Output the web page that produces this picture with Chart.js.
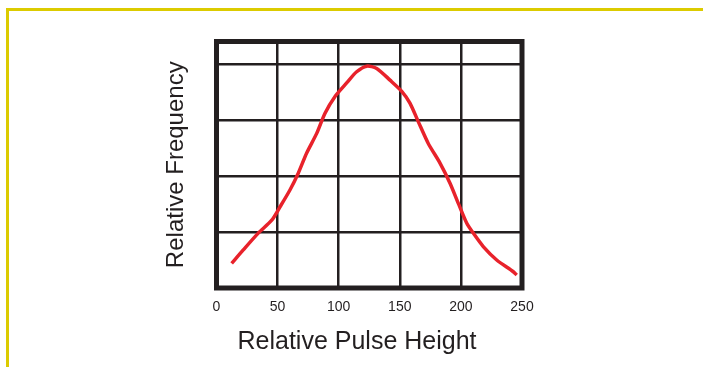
<!DOCTYPE html>
<html>
<head>
<meta charset="utf-8">
<script src="https://cdn.jsdelivr.net/npm/chart.js@4/dist/chart.umd.min.js"></script>
<style>
  html, body { margin: 0; padding: 0; background: #ffffff; overflow: hidden; }
  #wrap { position: relative; width: 703px; height: 367px; overflow: hidden; }
  #frame { position: absolute; left: 6px; top: 8px; width: 900px; height: 600px;
           border-top: 3px solid #dccb00; border-left: 3px solid #dccb00; }
  #c { position: absolute; left: 0; top: 0; }
</style>
</head>
<body>
<div id="wrap">
  <div id="frame"></div>
  <canvas id="c" width="703" height="367"></canvas>
</div>
<script>
// ---- data ----
const pulseHeight = [12.4, 21.9, 34.2, 45.2, 52.0, 60.1, 66.9, 73.8, 82.0, 88.8, 97.0, 106.5, 114.7, 122.9,
                     131.1, 142.0, 151.6, 158.3, 165.1, 173.3, 182.9, 191.1, 197.9, 204.7, 210.1, 218.3, 229.3, 242.9, 245.7];
const frequency   = [0.44, 0.68, 0.98, 1.21, 1.45, 1.75, 2.05, 2.41, 2.76, 3.12, 3.42, 3.66, 3.86, 3.96,
                     3.92, 3.71, 3.51, 3.30, 2.97, 2.58, 2.23, 1.87, 1.51, 1.16, 0.98, 0.74, 0.50, 0.29, 0.23];
const xTicks = [0, 50, 100, 150, 200, 250];
const xTitle = 'Relative Pulse Height';
const yTitle = 'Relative Frequency';

const ink = '#231f20';
const points = pulseHeight.map((x, i) => ({ x: x, y: frequency[i] }));

const framePlugin = {
  id: 'plotFrame',
  beforeDatasetsDraw(chart) {
    const a = chart.chartArea, ctx = chart.ctx;
    ctx.save();
    ctx.strokeStyle = ink;
    ctx.lineWidth = 5;
    ctx.strokeRect(a.left, a.top, a.right - a.left, a.bottom - a.top);
    ctx.restore();
  }
};

new Chart(document.getElementById('c'), {
  type: 'line',
  data: {
    datasets: [{
      data: points,
      borderColor: '#e8222b',
      borderWidth: 3.5,
      pointRadius: 0,
      tension: 0.25,
      fill: false
    }]
  },
  options: {
    responsive: false,
    animation: false,
    events: [],
    layout: { padding: { left: 11, right: 0, top: 41.5, bottom: 9.5 } },
    plugins: {
      legend: { display: false },
      tooltip: { enabled: false },
      title: {
        display: true,
        position: 'bottom',
        text: xTitle,
        color: ink,
        font: { family: 'Liberation Sans, Arial, sans-serif', size: 25, weight: 'normal', lineHeight: 1.2 },
        padding: { top: 0, bottom: 0 }
      }
    },
    scales: {
      x: {
        type: 'linear',
        position: 'bottom',
        min: 0, max: 250,
        afterBuildTicks: (s) => { s.ticks = xTicks.map(v => ({ value: v })); },
        afterFit: (s) => { s.height = 39.5; },
        ticks: {
          color: ink,
          padding: 11,
          maxRotation: 0,
          font: { family: 'Liberation Sans, Arial, sans-serif', size: 14 }
        },
        grid: { color: ink, lineWidth: 2.5, drawTicks: false },
        border: { display: false }
      },
      y: {
        type: 'linear',
        position: 'left',
        min: 0, max: 4.4,
        ticks: { display: false, stepSize: 1 },
        afterFit: (s) => { s.width = 205.5; },
        grid: { color: ink, lineWidth: 2.5, drawTicks: false },
        border: { display: false },
        title: {
          display: true,
          text: yTitle,
          color: ink,
          font: { family: 'Liberation Sans, Arial, sans-serif', size: 24, lineHeight: 1.2 },
          padding: { top: 150.6, bottom: 0 }
        }
      },
      yRight: {
        type: 'linear',
        position: 'right',
        display: true,
        ticks: { display: false },
        grid: { display: false },
        border: { display: false },
        afterFit: (s) => { s.width = 181; }
      }
    }
  },
  plugins: [framePlugin]
});
</script>
</body>
</html>
